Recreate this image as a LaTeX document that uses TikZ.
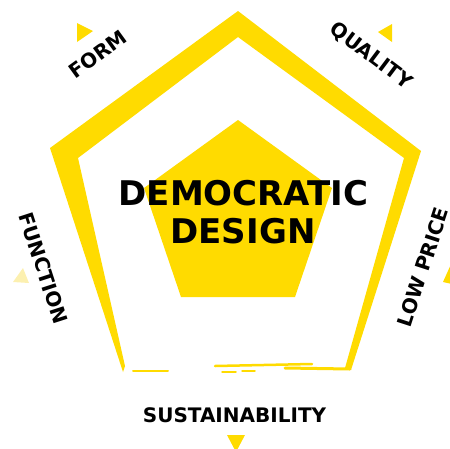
\documentclass[tikz,border=0pt]{standalone}
\usepackage{fontspec}
\setmainfont{DejaVu Sans}
\usepackage{tikz}
\definecolor{ikeayellow}{HTML}{FFDB00}
\definecolor{paleyellow}{HTML}{FCF0B0}
\tikzset{
  lbl/.style={font=\fontsize{20}{20}\selectfont\bfseries, inner sep=0pt, text height=14.6pt, text depth=0pt},
  big/.style={font=\fontsize{34}{34}\selectfont\bfseries, inner sep=0pt, anchor=base},
  scratch/.style={ikeayellow, line cap=round}
}

\begin{document}
\begin{tikzpicture}[x=1pt,y=-1pt]
            \useasboundingbox (0,0) rectangle (450,448);
            % outer frame, brush stroke
            \fill[ikeayellow] (123,372) -- (50,148) -- (238,11) -- (421,151) -- (351,370) -- (345,368) -- (404,158) -- (238,37) -- (78,158) -- (125,366) -- cycle;
            \draw[scratch, line width=3pt] (285,368) -- (350,369);
            \draw[scratch, line width=2.5pt] (215,366) -- (312,364);
            \draw[scratch, line width=2pt] (133,371) -- (168,371);
            \draw[scratch, line width=1.5pt] (222,372) -- (236,372);
            \draw[scratch, line width=1.5pt] (242,371) -- (255,371);
            % inner pentagon
            \fill[ikeayellow] (238,120) -- (332,188) -- (295,297) -- (181,297) -- (144,188) -- cycle;
            % small triangles
            \fill[ikeayellow] (77,23) -- (93,31) -- (77,42) -- cycle;
            \fill[ikeayellow] (392,24) -- (392,42) -- (378,32) -- cycle;
            \fill[paleyellow] (23,268) -- (29,283) -- (13,282) -- cycle;
            \fill[ikeayellow] (452,262) -- (452,284) -- (443,282) -- cycle;
            \fill[ikeayellow] (227,435) -- (245,435) -- (236,452) -- cycle;
            \node[big] (democratic) at (243.5,205) {DEMOCRATIC};
            \node[big] (design) at (243,243) {DESIGN};
            \node[lbl, rotate=36] (form) at (98,54) {FORM};
            \node[lbl, rotate=-37] (quality) at (371.5,55) {QUALITY};
            \node[lbl, rotate=-72] (function) at (43.5,268) {FUNCTION};
            \node[lbl, rotate=72] (lowprice) at (423,267) {LOW PRICE};
            \node[lbl] (sustainability) at (234.5,415) {SUSTAINABILITY};
        \end{tikzpicture}
\end{document}
